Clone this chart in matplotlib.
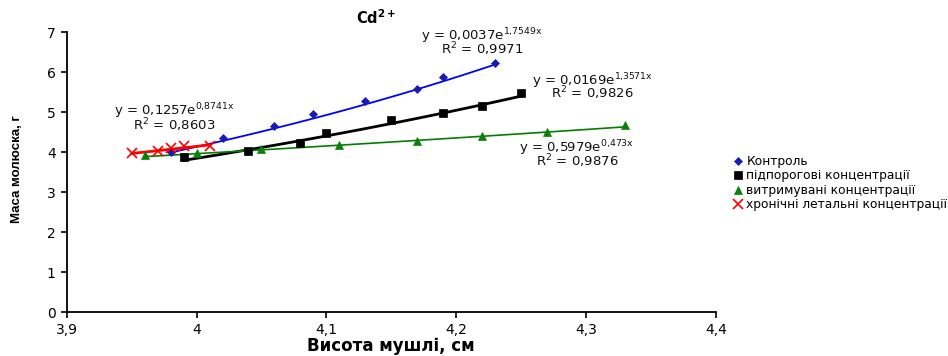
import matplotlib
matplotlib.use("Agg")
import matplotlib.pyplot as plt
import numpy as np

plt.rcParams["font.family"] = ["DejaVu Sans"]
plt.rcParams["mathtext.fontset"] = "dejavusans"

# --- data ----------------------------------------------------------------
SERIES_NAMES = ["Контроль", "підпорогові концентрації",
                "витримувані концентрації", "хронічні летальні концентрації"]

control_x = [3.98, 4.02, 4.06, 4.09, 4.13, 4.17, 4.19, 4.23]
control_y = [4.01, 4.35, 4.66, 4.96, 5.27, 5.58, 5.89, 6.23]

subthreshold_x = [3.99, 4.04, 4.08, 4.10, 4.15, 4.19, 4.22, 4.25]
subthreshold_y = [3.89, 4.02, 4.24, 4.49, 4.81, 4.98, 5.16, 5.49]

tolerated_x = [3.96, 4.00, 4.05, 4.11, 4.17, 4.22, 4.27, 4.33]
tolerated_y = [3.93, 3.97, 4.07, 4.17, 4.29, 4.41, 4.50, 4.69]

lethal_x = [3.95, 3.97, 3.98, 3.99, 4.01]
lethal_y = [3.97, 4.03, 4.10, 4.15, 4.15]

# exponential trendlines y = a * exp(b * x), as printed on the chart
trend_a = [0.0037, 0.0169, 0.5979, 0.1257]
trend_b = [1.7549, 1.3571, 0.473, 0.8741]
trend_r2 = ["0,9971", "0,9826", "0,9876", "0,8603"]
trend_a_txt = ["0,0037", "0,0169", "0,5979", "0,1257"]
trend_b_txt = ["1{,}7549x", "1{,}3571x", "0{,}473x", "0{,}8741x"]

x_ticks = [3.9, 4.0, 4.1, 4.2, 4.3, 4.4]
x_tick_labels = ["3,9", "4", "4,1", "4,2", "4,3", "4,4"]
y_ticks = [0, 1, 2, 3, 4, 5, 6, 7]

# --- styling ----------------------------------------------------------------
COLORS = ["#1A1AB4", "#000000", "#0A800A", "#FF0000"]
LINE_COLORS = ["#0000FF", "#000000", "#008000", "#FF0000"]
MARKERS = ["D", "s", "^", "x"]
MARKER_SIZES = [4.5, 6, 6, 6.5]
LINE_WIDTHS = [1.3, 2.0, 1.2, 2.0]
# label anchor positions (data coords): centre x, equation baseline, R² baseline
EQ_POS = [(4.220, 6.81, 6.46), (4.305, 5.68, 5.34),
          (4.293, 4.01, 3.66), (3.983, 4.93, 4.56)]

fig = plt.figure(figsize=(9.48, 3.56), dpi=100)
ax = fig.add_axes([0.0704, 0.1228, 0.6847, 0.7865])

all_x = [control_x, subthreshold_x, tolerated_x, lethal_x]
all_y = [control_y, subthreshold_y, tolerated_y, lethal_y]

handles = []
for i, (xs, ys) in enumerate(zip(all_x, all_y)):
    xs = np.asarray(xs)
    line_x = np.linspace(xs.min(), xs.max(), 50)
    ax.plot(line_x, trend_a[i] * np.exp(trend_b[i] * line_x),
            color=LINE_COLORS[i], linewidth=LINE_WIDTHS[i], zorder=2)
    mew = 1.2 if MARKERS[i] == "x" else 0.5
    h, = ax.plot(xs, ys, linestyle="none", marker=MARKERS[i],
                 markersize=MARKER_SIZES[i], color=COLORS[i],
                 markeredgewidth=mew, zorder=3, label=SERIES_NAMES[i])
    handles.append(h)

    cx, ey, ry = EQ_POS[i]
    ax.text(cx, ey, f"y = {trend_a_txt[i]}e$^{{\\mathregular{{{trend_b_txt[i]}}}}}$",
            ha="center", va="baseline", fontsize=9.5, color="#111111")
    ax.text(cx, ry, f"R$^{{\\mathregular{{2}}}}$ = {trend_r2[i]}",
            ha="center", va="baseline", fontsize=9.5, color="#111111")

ax.set_xlim(3.9, 4.4)
ax.set_ylim(0, 7)
ax.set_xticks(x_ticks)
ax.set_xticklabels(x_tick_labels)
ax.set_yticks(y_ticks)
ax.tick_params(direction="out", length=4, width=1.2, labelsize=10, pad=4)
for side in ("top", "right"):
    ax.spines[side].set_visible(False)
for side in ("left", "bottom"):
    ax.spines[side].set_linewidth(1.3)

ax.set_xlabel("Висота мушлі, см", fontsize=12, fontweight="bold", labelpad=0)
fig.text(0.018, 0.525, "Маса молюска, г", rotation=90, ha="center", va="center",
         fontsize=9.5, fontweight="bold",
         family=["Liberation Sans Narrow", "Liberation Sans", "DejaVu Sans"])
fig.text(0.397, 0.925, r"Cd$^{\mathbf{2+}}$", ha="center", va="bottom",
         fontsize=10.5, fontweight="bold")

fig.legend(handles=handles, loc="upper left", bbox_to_anchor=(0.775, 0.565),
           frameon=False, fontsize=8.8, handlelength=0.6, handletextpad=0.35,
           labelspacing=0.12, borderaxespad=0, borderpad=0)

fig.savefig("out.png", dpi=100, facecolor="white")
